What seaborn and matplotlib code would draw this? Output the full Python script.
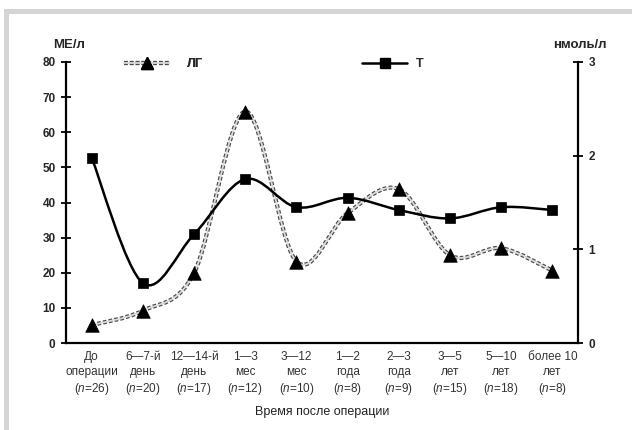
import numpy as np
import pandas as pd
import matplotlib
matplotlib.use("Agg")
import matplotlib.pyplot as plt
from matplotlib.path import Path
from matplotlib.patches import PathPatch, Rectangle
from matplotlib.lines import Line2D
from matplotlib.legend_handler import HandlerTuple
import seaborn as sns

# --- data -----------------------------------------------------------------
periods = ["До\nоперации", "6—7-й\nдень", "12—14-й\nдень", "1—3\nмес", "3—12\nмес",
           "1—2\nгода", "2—3\nгода", "3—5\nлет", "5—10\nлет", "более 10\nлет"]
n_patients = [26, 20, 17, 12, 10, 8, 9, 15, 18, 8]
lh_values = [5.1, 9.2, 19.9, 65.9, 23.2, 37.0, 43.8, 25.0, 27.0, 20.6]   # ЛГ, МЕ/л
t_values = [1.98, 0.64, 1.16, 1.75, 1.45, 1.55, 1.42, 1.33, 1.45, 1.42]  # Т, нмоль/л
left_ticks = [0, 10, 20, 30, 40, 50, 60, 70, 80]
right_ticks = [0, 1, 2, 3]

sns.set_theme(style="white")
plt.rcParams["font.family"] = ["Liberation Sans", "DejaVu Sans"]
plt.rcParams["mathtext.fontset"] = "custom"
plt.rcParams["mathtext.rm"] = "Liberation Sans"
plt.rcParams["mathtext.it"] = "Liberation Sans:italic"

df = pd.DataFrame({"pos": np.arange(len(periods)), "lh": lh_values, "t": t_values})


def smooth_path(xs, ys):
    """Cubic Bezier path through the points (Excel-style smoothed line)."""
    pts = np.column_stack([xs, ys]).astype(float)
    ext = np.vstack([pts[0], pts, pts[-1]])
    verts = [pts[0]]
    codes = [Path.MOVETO]
    for i in range(len(pts) - 1):
        p0, p1, p2, p3 = ext[i], ext[i + 1], ext[i + 2], ext[i + 3]
        c1 = p1 + (p2 - p0) / 6.0
        c2 = p2 - (p3 - p1) / 6.0
        verts += [c1, c2, p2]
        codes += [Path.CURVE4] * 3
    return Path(verts, codes)


fig = plt.figure(figsize=(6.32, 4.30), dpi=100)
fig.patch.set_facecolor("white")

# light grey frame along the top and left edges
frame_col = "#d5d5d5"
fig.patches.append(Rectangle((4 / 632, 1 - 14 / 430), 1, 5 / 430, transform=fig.transFigure,
                             facecolor=frame_col, edgecolor="none", zorder=0))
fig.patches.append(Rectangle((4 / 632, 0), 4.5 / 632, 1 - 9 / 430, transform=fig.transFigure,
                             facecolor=frame_col, edgecolor="none", zorder=0))

ax = fig.add_axes([66 / 632, 1 - 343 / 430, (578 - 66) / 632, (343 - 62) / 430])
ax2 = ax.twinx()
ax.set_facecolor("none")

LH_OUTER = dict(color="#4a4a4a", lw=3.0, linestyle=(0, (0.9, 0.5)))
LH_INNER = dict(color="#dadada", lw=1.3)

# ЛГ: textured grey smoothed line
lh_path = smooth_path(df["pos"], df["lh"])
ax.add_patch(PathPatch(lh_path, facecolor="none", edgecolor=LH_OUTER["color"],
                       lw=LH_OUTER["lw"], linestyle=LH_OUTER["linestyle"], zorder=2))
ax.add_patch(PathPatch(lh_path, facecolor="none", edgecolor=LH_INNER["color"],
                       lw=LH_INNER["lw"], zorder=2.1))
sns.scatterplot(data=df, x="pos", y="lh", ax=ax, marker="^", s=95, color="black",
                edgecolor="black", linewidth=0.5, zorder=3, legend=False)

# Т: black smoothed line on the right axis
t_path = smooth_path(df["pos"], df["t"])
ax2.add_patch(PathPatch(t_path, facecolor="none", edgecolor="black", lw=1.8, zorder=2))
sns.scatterplot(data=df, x="pos", y="t", ax=ax2, marker="s", s=55, color="black",
                edgecolor="black", linewidth=0.5, zorder=3, legend=False)

# axes ranges and ticks
ax.set_xlim(-0.5, len(periods) - 0.5)
ax.set_ylim(left_ticks[0], left_ticks[-1])
ax2.set_ylim(right_ticks[0], right_ticks[-1])
ax.set_yticks(left_ticks)
ax.set_yticklabels([str(v) for v in left_ticks])
ax2.set_yticks(right_ticks)
ax2.set_yticklabels([str(v) for v in right_ticks])

ax.set_xticks(np.arange(len(periods) + 1) - 0.5)
ax.set_xticklabels([])
ax.set_xticks(np.arange(len(periods)), minor=True)
ax.set_xticklabels([f"{p}\n($\\it{{n}}$={n})" for p, n in zip(periods, n_patients)],
                   minor=True, fontsize=8.5, color="#333333", linespacing=1.3)
ax.tick_params(axis="x", which="minor", length=0, pad=6)
ax.tick_params(axis="x", which="major", direction="inout", length=7, width=1.3, color="black")
ax.tick_params(axis="y", direction="inout", length=7, width=1.3, color="black",
               labelsize=8.5, pad=4)
ax2.tick_params(axis="y", direction="inout", length=7, width=1.3, color="black",
                labelsize=8.5, pad=4)
for lab in ax.get_yticklabels() + ax2.get_yticklabels():
    lab.set_fontweight("bold")

ax.set_xlabel("Время после операции", fontsize=9, labelpad=6, color="#222222")
ax.set_ylabel("")
ax2.set_ylabel("")

for a in (ax, ax2):
    a.spines["top"].set_visible(False)
    for side in ("left", "right", "bottom"):
        a.spines[side].set_linewidth(1.6)
        a.spines[side].set_color("black")
ax.spines["right"].set_visible(False)
ax2.spines["left"].set_visible(False)
ax2.spines["bottom"].set_visible(False)
ax.grid(False)
ax2.grid(False)

fig.text(69 / 632, 1 - 45 / 430, "МЕ/л", ha="center", va="center", fontsize=9.5,
         fontweight="bold")
fig.text(580 / 632, 1 - 45 / 430, "нмоль/л", ha="center", va="center", fontsize=9.5,
         fontweight="bold")

# legends
overlay = {tuple: HandlerTuple(ndivide=1, pad=0)}
lh_handle = (Line2D([], [], **LH_OUTER), Line2D([], [], **LH_INNER),
             Line2D([], [], color="black", marker="^", markersize=9, linestyle="none"))
t_handle = (Line2D([], [], color="black", lw=1.8),
            Line2D([], [], color="black", marker="s", markersize=7, linestyle="none"))
leg1 = ax.legend([lh_handle], ["ЛГ"], handler_map=overlay,
                 loc="center left", bbox_to_anchor=(124 / 632, 1 - 64 / 430),
                 bbox_transform=fig.transFigure, frameon=False, fontsize=9,
                 handlelength=3.6, handletextpad=1.4, borderpad=0, borderaxespad=0)
for txt in leg1.get_texts():
    txt.set_fontweight("bold")
ax.add_artist(leg1)
leg2 = ax2.legend([t_handle], ["Т"], handler_map=overlay,
                  loc="center left", bbox_to_anchor=(362 / 632, 1 - 64 / 430),
                  bbox_transform=fig.transFigure, frameon=False, fontsize=9,
                  handlelength=3.6, handletextpad=0.7, borderpad=0, borderaxespad=0)
for txt in leg2.get_texts():
    txt.set_fontweight("bold")

fig.savefig("out.png", dpi=100, facecolor="white")
